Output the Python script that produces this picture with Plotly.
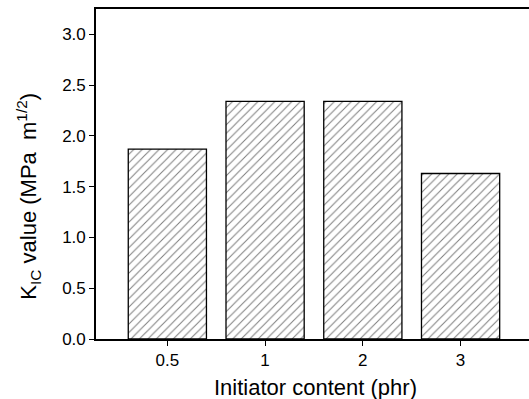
import plotly.graph_objects as go

categories = ["0.5", "1", "2", "3"]
kic_values = [1.87, 2.34, 2.34, 1.63]
y_ticks = [0.0, 0.5, 1.0, 1.5, 2.0, 2.5, 3.0]
y_tick_labels = ["0.0", "0.5", "1.0", "1.5", "2.0", "2.5", "3.0"]
x_title = "Initiator content (phr)"
y_title = "K<sub>IC</sub> value (MPa  m<sup>1/2</sup>)"

fig = go.Figure()
fig.add_trace(go.Bar(
    x=categories,
    y=kic_values,
    width=0.8,
    marker=dict(
        color="white",
        line=dict(color="black", width=1.3),
        pattern=dict(shape="/", size=6, solidity=0.17, fgcolor="black", bgcolor="white"),
    ),
))

font_family = "Liberation Sans, Arial, sans-serif"
fig.update_layout(
    width=529, height=399,
    margin=dict(l=96, r=0, t=9, b=59.5),
    paper_bgcolor="white", plot_bgcolor="white",
    showlegend=False,
    font=dict(family=font_family, color="black", size=17),
    xaxis=dict(
        type="category",
        range=[-0.73, 3.7],
        showline=True, linecolor="black", linewidth=1.6, mirror=True,
        ticks="outside", ticklen=5, tickwidth=1.4, tickcolor="black",
        showgrid=False, zeroline=False, automargin=False,
        tickfont=dict(size=17),
    ),
    yaxis=dict(
        range=[0, 3.25],
        tickvals=y_ticks, ticktext=y_tick_labels,
        showline=True, linecolor="black", linewidth=1.6,
        ticks="outside", ticklen=5, tickwidth=1.4, tickcolor="black",
        showgrid=False, zeroline=False, automargin=False,
        tickfont=dict(size=17),
    ),
    annotations=[
        dict(text=x_title, xref="paper", yref="paper", x=0.506, y=-0.147,
             xanchor="center", yanchor="middle", showarrow=False, font=dict(size=22)),
        dict(text=y_title, xref="paper", yref="paper", x=-0.155, y=0.434,
             xanchor="center", yanchor="middle", showarrow=False, textangle=-90,
             font=dict(size=22)),
    ],
    shapes=[
        dict(type="line", xref="paper", yref="paper", x0=1, x1=1, y0=0.004, y1=0.996,
             line=dict(color="white", width=3), layer="above"),
    ],
)

fig.write_html("out.html", config={"displayModeBar": False})
